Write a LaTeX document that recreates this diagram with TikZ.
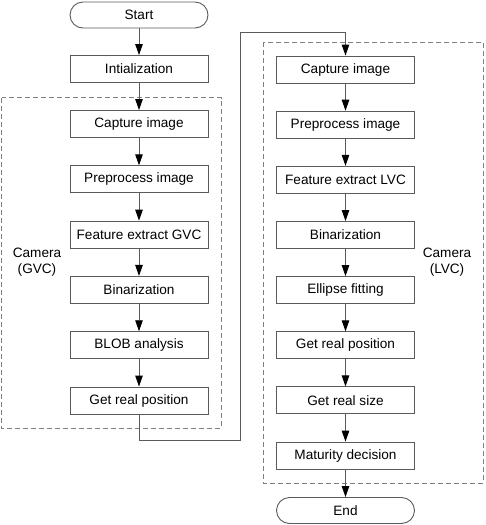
\documentclass[tikz,border=0pt]{standalone}
\usepackage{fontspec}
\setmainfont{Liberation Sans}
\usetikzlibrary{arrows.meta}
\definecolor{edgegray}{HTML}{5A5A5A}
\definecolor{framegray}{HTML}{808080}

\begin{document}
\begin{tikzpicture}[x=1pt, y=-1pt, font=\fontsize{13.6}{15.5}\selectfont, box/.style={draw=edgegray, line width=0.9pt, minimum width=138pt, minimum height=27pt, inner sep=0pt}, term/.style={box, rounded corners=13pt, minimum height=26pt}, flow/.style={edgegray, line width=0.9pt, -{Triangle[length=11pt, width=7.5pt, color=black]}}, frame/.style={framegray, line width=1pt, dash pattern=on 5pt off 3pt}]
\useasboundingbox (0,0) rectangle (485,525);
\node[term] (start) at (139,15){Start};
\node[box] (init) at (139,69){Intialization};
\foreach \lab [count=\i] in {Capture image, Preprocess image, Feature extract GVC, Binarization, BLOB analysis, Get real position} {\node[box] (g\i) at (139,{124+55.3*(\i-1)}){\lab};}
\foreach \lab [count=\i] in {Capture image, Preprocess image, Feature extract LVC, Binarization, Ellipse fitting, Get real position, Get real size, Maturity decision} {\node[box] (l\i) at (345.5,{69.5+55.15*(\i-1)}){\lab};}
\node[term] (end) at (345.5,510.5){End};
\draw[frame] (1.5,97.5) rectangle (221,428);
\draw[frame] (263,42) rectangle (483,483);
\node[align=center] (gvc) at (37,262){Camera\\(GVC)};
\node[align=center] (lvc) at (447,262){Camera\\(LVC)};
\draw[flow] (start) -- (init);
\draw[flow] (init) -- (g1);
\foreach \i [evaluate=\i as \j using int(\i+1)] in {1,...,5} {\draw[flow] (g\i) -- (g\j);}
\foreach \i [evaluate=\i as \j using int(\i+1)] in {1,...,7} {\draw[flow] (l\i) -- (l\j);}
\draw[flow] (l8) -- (end);
\coordinate (low) at (240.5,440);
\coordinate (high) at (240.5,32);
\draw[flow] (g6.south) |- (low) -- (high) -| (l1.north);
\end{tikzpicture}
\end{document}
